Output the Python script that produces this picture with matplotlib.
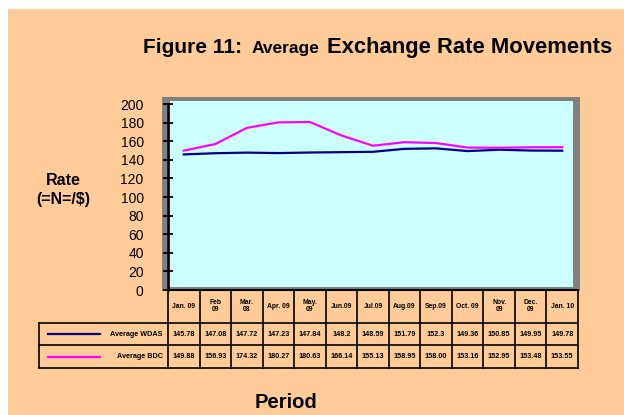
import matplotlib
matplotlib.use("Agg")
import matplotlib.pyplot as plt
from matplotlib.patches import Rectangle
from matplotlib.lines import Line2D
from matplotlib.transforms import Affine2D

W, H = 624, 415

months = ["Jan. 09", "Feb\n09", "Mar.\n08", "Apr. 09", "May.\n09", "Jun.09", "Jul.09",
          "Aug.09", "Sep.09", "Oct. 09", "Nov.\n09", "Dec.\n09", "Jan. 10"]
wdas = [145.78, 147.08, 147.72, 147.23, 147.84, 148.2, 148.59, 151.79, 152.3, 149.36, 150.85, 149.95, 149.78]
bdc = [149.88, 156.93, 174.32, 180.27, 180.63, 166.14, 155.13, 158.95, 158.00, 153.16, 152.95, 153.48, 153.55]
series = [("Average WDAS", wdas, "#000080", str),
          ("Average BDC", bdc, "#FF00FF", lambda v: "%.2f" % v)]
yticks = list(range(0, 201, 20))

plt.rcParams['font.family'] = ['Liberation Sans', 'DejaVu Sans']

fig = plt.figure(figsize=(W / 100, H / 100), dpi=100)
fig.patch.set_facecolor('white')
# pixel coords, y measured from the top
px = Affine2D().scale(1 / W, -1 / H).translate(0, 1) + fig.transFigure


def rect(x0, y0, x1, y1, color, z):
    fig.patches.append(Rectangle((x0, y0), x1 - x0, y1 - y0, transform=px,
                                 facecolor=color, edgecolor='none', zorder=z))


def hline(x0, x1, y, color='black', lw=1.2):
    fig.lines.append(Line2D([x0, x1], [y, y], transform=px, color=color, lw=lw, zorder=3))


def vline(x, y0, y1, color='black', lw=1.2):
    fig.lines.append(Line2D([x, x], [y0, y1], transform=px, color=color, lw=lw, zorder=3))


rect(8, 9, W, H, '#FFCC99', -10)      # peach background
rect(162, 97, 580, 291, '#808080', -9)  # grey plot frame
rect(170, 101, 573, 287, '#CCFFFF', -8)  # cyan plot area

# chart axes
x0, x1 = 168, 578
colw = (x1 - x0) / len(months)
ax = fig.add_axes([x0 / W, 1 - 290 / H, (x1 - x0) / W, (290 - 104) / H])
ax.patch.set_visible(False)
for name, vals, col, fmt in series:
    ax.plot(range(len(vals)), vals, color=col, lw=1.6)
ax.set_xlim(-0.5, len(months) - 0.5)
ax.set_ylim(0, 200)
ax.set_yticks(yticks)
ax.set_xticks([])
ax.spines['top'].set_visible(False)
ax.spines['right'].set_visible(False)
ax.spines['left'].set_linewidth(1.8)
ax.spines['bottom'].set_linewidth(1.5)
ax.tick_params(axis='y', direction='inout', length=7, width=1.3, labelsize=10, pad=14)

# data table below the axis
rows_y = [(290, 323), (323, 345), (345, 368)]
edges = [x0 + i * colw for i in range(len(months) + 1)]
for e in edges:
    vline(e, 290, 368)
vline(39, 323, 368)
for y in (323, 345, 368):
    hline(39, x1, y)

for i, m in enumerate(months):
    cx = x0 + (i + 0.5) * colw
    fig.text(cx, 306, m, transform=px, ha='center', va='center', fontsize=4.9,
             fontweight='bold', linespacing=0.95)
for r, (name, vals, col, fmt) in enumerate(series):
    yc = (rows_y[r + 1][0] + rows_y[r + 1][1]) / 2
    hline(48, 100, yc, color=col, lw=1.6)
    fig.text(163, yc, name, transform=px, ha='right', va='center', fontsize=5.2,
             fontweight='bold')
    for i, v in enumerate(vals):
        cx = x0 + (i + 0.5) * colw
        fig.text(cx, yc, fmt(v), transform=px, ha='center', va='center', fontsize=5.2,
                 fontweight='bold')

# titles
fig.text(143, 53, "Figure 11:", transform=px, fontsize=15, fontweight='bold', va='baseline')
fig.text(252, 53, "Average", transform=px, fontsize=12.5, fontweight='bold', va='baseline')
fig.text(327, 53, "Exchange Rate Movements", transform=px, fontsize=15.8, fontweight='bold',
         va='baseline')
fig.text(63, 190, "Rate\n(=N=/$)", transform=px, fontsize=11.5, fontweight='bold',
         ha='center', va='center', multialignment='center', linespacing=1.3)
fig.text(286, 402, "Period", transform=px, fontsize=14.5, fontweight='bold',
         ha='center', va='center')

fig.savefig('out.png', dpi=100)
